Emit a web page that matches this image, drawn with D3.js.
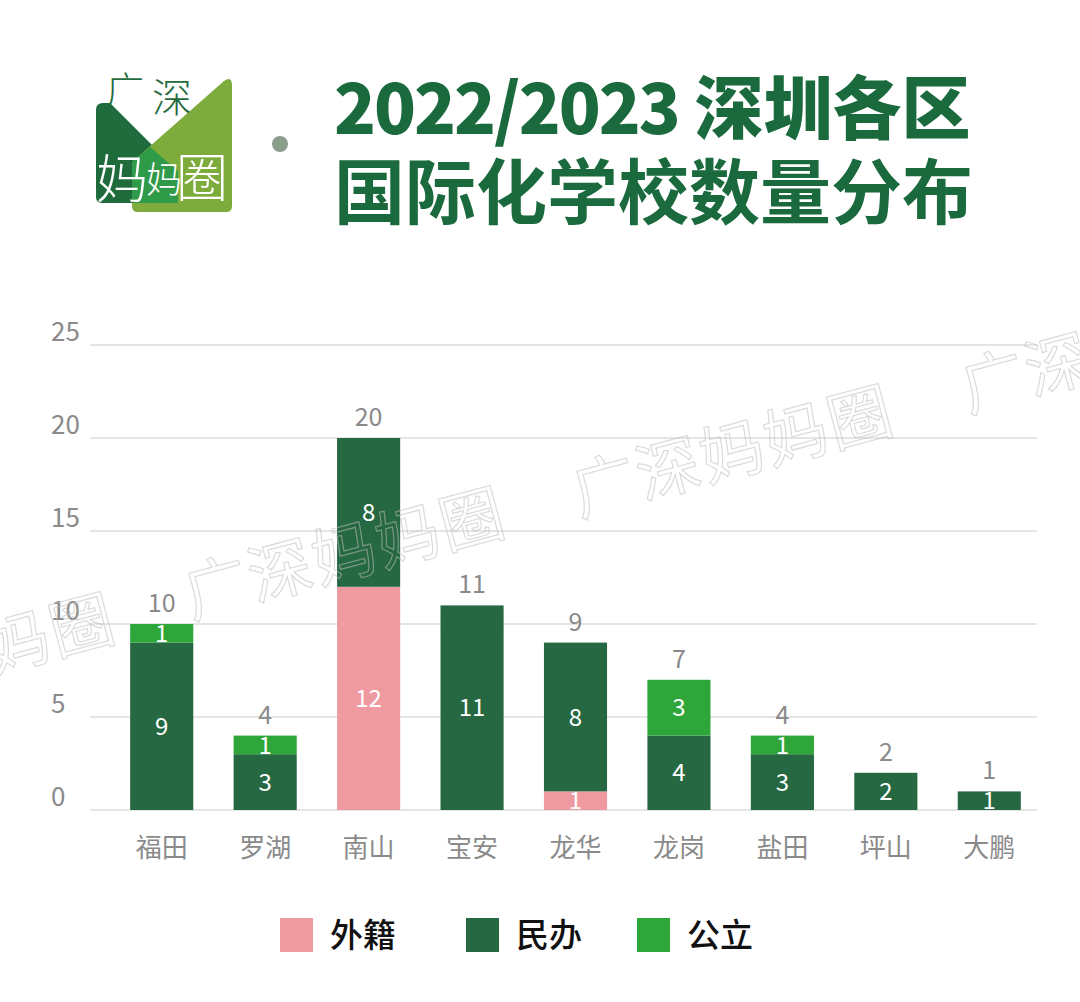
<!DOCTYPE html>
<html><head><meta charset="utf-8">
<script src="https://cdn.jsdelivr.net/npm/d3@7"></script>
<style>html,body{margin:0;padding:0;background:#fff}svg{display:block}</style>
</head><body>
<script>
const categories = ['福田','罗湖','南山','宝安','龙华','龙岗','盐田','坪山','大鹏'];
const foreign  = [0,0,12,0,1,0,0,0,0];   // 外籍
const privateS = [9,3,8,11,8,4,3,2,1];   // 民办
const publicS  = [1,1,0,0,0,3,1,0,0];    // 公立
const seriesNames = ['外籍','民办','公立'];
const seriesColors = ['#ef9aa0','#266841','#2ea63a'];
const yTicks = [0,5,10,15,20,25];

const W = 1080, H = 1002;
const FONT = '"Noto Sans CJK SC","Noto Sans",sans-serif';
const svg = d3.select('body').append('svg').attr('width',W).attr('height',H);

// ---------- logo ----------
const logo = svg.append('g');
logo.append('path').attr('d','M96,110 Q96,103 103,103 L110,103 L178,171 L178,197 Q178,203 172,203 L103,203 Q96,203 96,197 Z').attr('fill','#1f6b3c');
logo.append('path').attr('d','M132,162 L224,81 Q232,75 232,86 L232,206 Q232,212 226,212 L138,212 Q132,212 132,206 Z').attr('fill','#7dac3c');
logo.append('path').attr('d','M132,162 L150,147 L178,171 L178,203 L132,203 Z').attr('fill','#2f9a48');
logo.append('text').attr('x',106).attr('y',104).attr('font-family',FONT).attr('font-weight',300).attr('font-size',38).attr('fill','#1f6b3c').text('广');
logo.append('text').attr('x',152).attr('y',112).attr('font-family',FONT).attr('font-weight',300).attr('font-size',40).attr('fill','#1f6b3c').text('深');
logo.append('text').attr('x',96).attr('y',198).attr('font-family',FONT).attr('font-weight',300).attr('font-size',52).attr('fill','#fff').text('妈');
logo.append('text').attr('x',146).attr('y',193).attr('font-family',FONT).attr('font-weight',300).attr('font-size',36).attr('fill','#fff').text('妈');
logo.append('text').attr('x',176).attr('y',197).attr('font-family',FONT).attr('font-weight',300).attr('font-size',52).attr('fill','#fff').text('圈');
svg.append('circle').attr('cx',280).attr('cy',144).attr('r',8).attr('fill','#8c9c8a');

// ---------- title ----------
const titleColor = '#1a6a3e';
const t1 = svg.append('text').attr('x',334).attr('y',134).attr('font-family',FONT).attr('font-weight',900).attr('font-size',69).attr('fill',titleColor);
t1.append('tspan').attr('letter-spacing',-2).text('2022/2023');
t1.append('tspan').text(' 深圳各区');
svg.append('text').attr('x',334).attr('y',218).attr('font-family',FONT).attr('font-weight',700).attr('font-size',71).attr('fill',titleColor).text('国际化学校数量分布');

// ---------- chart ----------
const x = d3.scaleBand().domain(categories).range([110,1041]).paddingInner(0.39).paddingOuter(0.195);
const y = d3.scaleLinear().domain([0,25]).range([810,345]);

const grid = svg.append('g');
yTicks.forEach(t=>{
  grid.append('line').attr('x1',90).attr('x2',1037).attr('y1',y(t)).attr('y2',y(t)).attr('stroke','#dcdcdc').attr('stroke-width',1.5);
  grid.append('text').attr('x',51).attr('y',y(t)-4).attr('font-family',FONT).attr('font-size',26).attr('fill','#8a8a8a').text(t);
});

const table = categories.map((c,i)=>({cat:c,'外籍':foreign[i],'民办':privateS[i],'公立':publicS[i]}));
const stack = d3.stack().keys(seriesNames)(table);

const bars = svg.append('g');
stack.forEach((layer,li)=>{
  layer.forEach((d,i)=>{
    const v = d[1]-d[0];
    if(v<=0) return;
    bars.append('rect').attr('x',x(categories[i])).attr('width',x.bandwidth())
      .attr('y',y(d[1])).attr('height',y(d[0])-y(d[1])).attr('fill',seriesColors[li]);
    bars.append('text').attr('x',x(categories[i])+x.bandwidth()/2).attr('y',(y(d[0])+y(d[1]))/2)
      .attr('dy','0.36em').attr('text-anchor','middle').attr('font-family',FONT).attr('font-size',24).attr('fill','#fff').text(v);
  });
});
// totals
table.forEach((d,i)=>{
  const tot = foreign[i]+privateS[i]+publicS[i];
  svg.append('text').attr('x',x(d.cat)+x.bandwidth()/2).attr('y',y(tot)-12).attr('text-anchor','middle')
    .attr('font-family',FONT).attr('font-size',25).attr('fill','#8a8a8a').text(tot);
});
// category labels
categories.forEach(c=>{
  svg.append('text').attr('x',x(c)+x.bandwidth()/2).attr('y',857).attr('text-anchor','middle')
    .attr('font-family',FONT).attr('font-size',26).attr('fill','#8a8a8a').text(c);
});

// ---------- legend ----------
const legendX = [280,466,637];
seriesNames.forEach((n,i)=>{
  svg.append('rect').attr('x',legendX[i]).attr('y',918).attr('width',33).attr('height',34).attr('fill',seriesColors[i]);
  svg.append('text').attr('x',legendX[i]+50).attr('y',947).attr('font-family',FONT).attr('font-weight',500).attr('font-size',33).attr('fill','#111').text(n);
});

// ---------- watermark ----------
const wm = svg.append('g').attr('pointer-events','none');
[[-45,660],[345,554],[733,452],[1122,348]].forEach(([cx,cy])=>{
  wm.append('text').attr('transform',`translate(${cx},${cy}) rotate(-15)`).attr('text-anchor','middle').attr('dy','0.35em')
    .attr('font-family',FONT).attr('font-size',64).attr('letter-spacing',2).attr('fill','none')
    .attr('stroke','rgba(190,190,190,0.55)').attr('stroke-width',1.2).text('广深妈妈圈');
});
</script>
</body></html>
